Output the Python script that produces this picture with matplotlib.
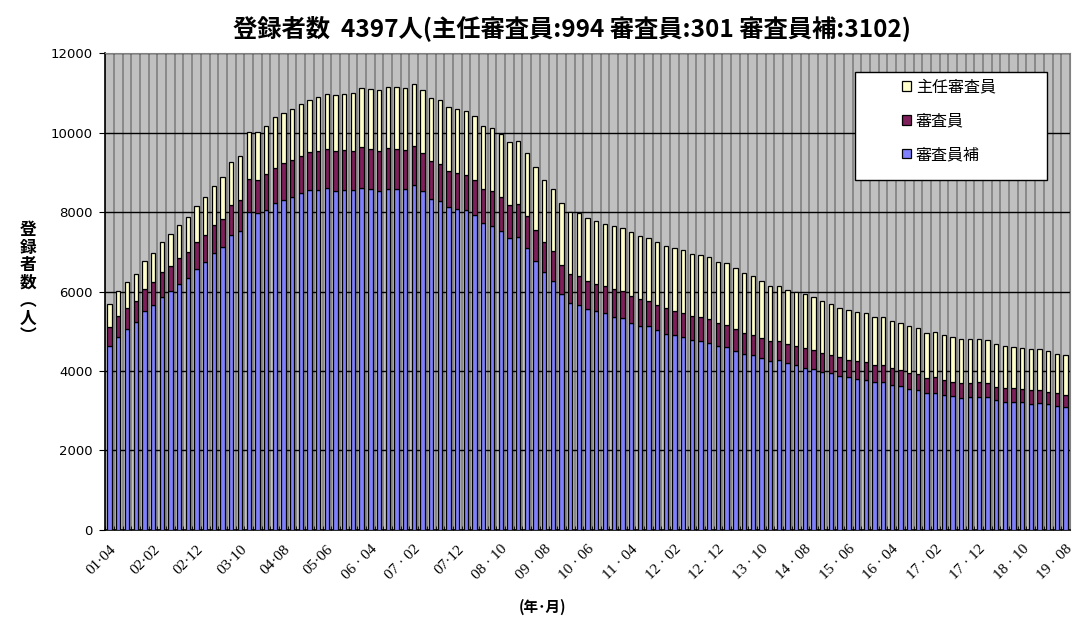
import numpy as np
import matplotlib
matplotlib.use("Agg")
import matplotlib.pyplot as plt
from matplotlib.patches import Rectangle

# ---- data ----
series_names = ["主任審査員", "審査員", "審査員補"]

hoshu = [4630, 4850, 5050, 5230, 5500, 5655, 5855, 6005, 6185, 6335,
         6560, 6735, 6965, 7115, 7415, 7515, 8000, 7970, 8045, 8220,
         8300, 8375, 8475, 8550, 8550, 8600, 8525, 8550, 8550, 8600,
         8575, 8525, 8575, 8575, 8575, 8675, 8525, 8325, 8275, 8120,
         8070, 8045, 7920, 7720, 7645, 7515, 7340, 7365, 7090, 6760,
         6485, 6260, 5930, 5705, 5655, 5555, 5505, 5455, 5355, 5330,
         5200, 5125, 5125, 5025, 4925, 4900, 4850, 4775, 4750, 4700,
         4625, 4600, 4495, 4420, 4395, 4320, 4245, 4270, 4195, 4145,
         4070, 4045, 3970, 3945, 3870, 3845, 3790, 3765, 3715, 3715,
         3640, 3615, 3540, 3515, 3440, 3440, 3390, 3365, 3315, 3340,
         3340, 3340, 3265, 3215, 3215, 3215, 3165, 3190, 3165, 3115,
         3102]

shinsain = [480, 530, 530, 530, 555, 580, 630, 630, 655, 655,
            680, 680, 705, 705, 755, 780, 830, 830, 905, 880,
            930, 930, 930, 955, 980, 980, 1005, 1005, 980, 1030,
            1005, 1005, 1030, 1005, 980, 980, 955, 955, 930, 905,
            905, 880, 880, 855, 880, 855, 830, 830, 805, 780,
            755, 755, 730, 730, 730, 705, 680, 680, 705, 680,
            680, 680, 630, 630, 655, 605, 605, 605, 605, 605,
            580, 555, 555, 530, 505, 505, 505, 480, 480, 480,
            505, 480, 480, 455, 480, 430, 455, 455, 430, 430,
            430, 405, 400, 405, 375, 405, 375, 355, 380, 350,
            375, 350, 325, 355, 355, 330, 350, 325, 300, 325,
            301]

shunin = [570, 630, 655, 680, 715, 730, 755, 805, 830, 880,
          905, 955, 980, 1060, 1080, 1105, 1185, 1210, 1210, 1285,
          1260, 1285, 1310, 1310, 1360, 1385, 1410, 1410, 1460, 1485,
          1510, 1535, 1535, 1560, 1560, 1560, 1585, 1585, 1610, 1610,
          1610, 1610, 1610, 1585, 1585, 1585, 1585, 1585, 1585, 1585,
          1560, 1560, 1560, 1560, 1585, 1585, 1585, 1560, 1585, 1585,
          1610, 1585, 1585, 1585, 1560, 1585, 1585, 1560, 1560, 1560,
          1535, 1560, 1535, 1510, 1485, 1435, 1385, 1385, 1360, 1360,
          1360, 1335, 1310, 1285, 1235, 1260, 1235, 1235, 1210, 1210,
          1185, 1185, 1185, 1160, 1135, 1130, 1135, 1130, 1105, 1105,
          1080, 1080, 1080, 1055, 1030, 1030, 1030, 1030, 1030, 980,
          994]

tick_labels = ["01·04", "02·02", "02·12", "03·10", "04·08", "05·06",
               "06 · 04", "07 · 02", "07·12", "08 · 10", "09 · 08",
               "10 · 06", "11 · 04", "12 · 02", "12 · 12", "13 · 10",
               "14 · 08", "15 · 06", "16 · 04", "17 · 02", "17 · 12",
               "18 · 10", "19 · 08"]

title = "登録者数  4397人(主任審査員:994 審査員:301 審査員補:3102)"
ylabel = "登録者数(人)"
xlabel = "(年･月)"

# ---- styling ----
CJK = ["Noto Sans CJK JP", "DejaVu Sans"]
c_blue = "#8080FF"
c_red = "#7F1F5C"
c_yel = "#FFFFCC"

fig = plt.figure(figsize=(10.91, 6.23), dpi=100)
ax = fig.add_axes([0.0965, 0.1493, 0.8842, 0.7656])
ax.set_facecolor("#C0C0C0")

x = np.arange(len(hoshu))
b = np.array(hoshu)
r = np.array(shinsain)
yv = np.array(shunin)

kw = dict(width=0.5, edgecolor="black", linewidth=0.9, zorder=3)
h_blue = ax.bar(x, b, color=c_blue, **kw)
h_red = ax.bar(x, r, bottom=b, color=c_red, **kw)
h_yel = ax.bar(x, yv, bottom=b + r, color=c_yel, **kw)

ax.set_xlim(-0.5, len(x) - 0.5)
ax.set_ylim(0, 12000)
ax.set_yticks(np.arange(0, 12001, 2000))
ax.set_axisbelow(True)

ax.set_xticks(x[::5])
ax.set_xticklabels(tick_labels, rotation=45, ha="right", va="top",
                   rotation_mode="anchor", fontfamily="Liberation Serif",
                   fontsize=11)
ax.set_xticks(np.arange(-0.5, len(x), 1), minor=True)
ax.tick_params(axis="x", which="major", length=0, pad=9)
ax.tick_params(axis="x", which="minor", length=3, direction="in", color="black")
ax.tick_params(axis="y", length=4, direction="out", pad=5, labelsize=9.5)
for lab in ax.get_yticklabels():
    lab.set_fontfamily(["Liberation Sans Narrow", "DejaVu Sans"])

ax.xaxis.grid(True, which="minor", color="#808080", linewidth=1.2)
ax.xaxis.grid(False, which="major")
ax.yaxis.grid(True, color="black", linewidth=1)

for s in ["top", "right"]:
    ax.spines[s].set_color("#808080")
for s in ["left", "bottom"]:
    ax.spines[s].set_color("black")
    ax.spines[s].set_linewidth(1.2)

# legend box
ax.add_patch(Rectangle((0.777, 0.734), 0.199, 0.226, transform=ax.transAxes,
                       facecolor="white", edgecolor="black", linewidth=1,
                       zorder=5))
leg = ax.legend([h_yel, h_red, h_blue], series_names, loc="upper left",
                bbox_to_anchor=(0.826, 0.946), frameon=False,
                prop={"family": CJK, "size": 11.5}, borderpad=0,
                borderaxespad=0, labelspacing=1.05, handlelength=0.55,
                handleheight=0.55, handletextpad=0.3)
leg.set_zorder(6)

fig.text(0.524, 0.955, title, ha="center", va="center", fontsize=17.5,
         fontweight="bold", family=CJK)
fig.text(543 / 1091, 1 - 607 / 623, xlabel, ha="center", va="center",
         fontsize=10.5, fontweight="bold", family=CJK)
fig.text(28 / 1091, 1 - 283 / 623, "\n".join(["登", "録", "者", "数", "︵", "人", "︶"]),
         ha="center", va="center", fontsize=12, fontweight="bold",
         family=CJK, linespacing=0.98)

fig.savefig("out.png", dpi=100)
